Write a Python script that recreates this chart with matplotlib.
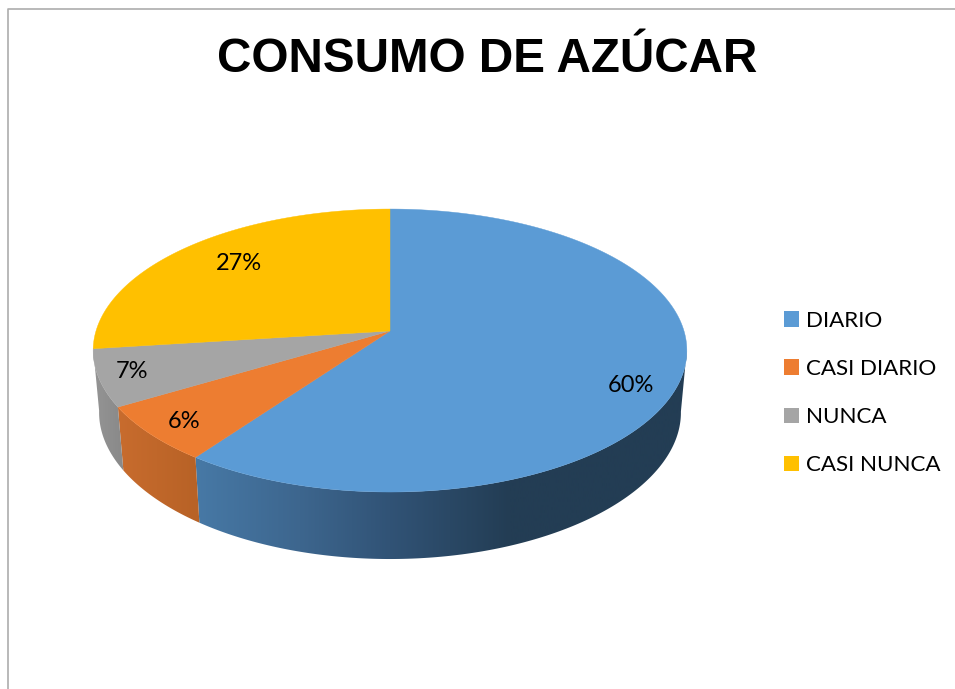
import numpy as np
import matplotlib
matplotlib.use('Agg')
import matplotlib.pyplot as plt
from matplotlib.patches import Patch, Polygon

title = 'CONSUMO DE AZÚCAR'
categories = ['DIARIO', 'CASI DIARIO', 'NUNCA', 'CASI NUNCA']
values = [60.0, 6.49, 6.51, 27.0]

top_colors = ['#5B9BD5', '#ED7D31', '#A5A5A5', '#FFC000']

# side shading of each slice, left to right (x pixel, colour)
side_x = [
    [195, 300, 390, 510, 690],
    [117, 197],
    [90, 120],
    [90, 120],
]
side_rgb = [
    [(71, 121, 166), (61, 102, 142), (49, 83, 118), (35, 61, 84), (35, 61, 84)],
    [(200, 108, 46), (184, 98, 38)],
    [(150, 150, 150), (138, 138, 138)],
    [(150, 150, 150), (138, 138, 138)],
]

label_xy = [(631, 385), (184, 422), (132, 372), (239, 263)]

# pie geometry in pixels, the top face is a circle seen in perspective
cx, cy = 390, 331
bx, ay = 294, 138.8
k = 0.138


def rim(theta):
    u, v = np.sin(theta), np.cos(theta)
    w = 1 + k * v
    return cx + bx * u / w, cy - ay * v / w


def rim_bottom(theta):
    x, y = rim(theta)
    v = np.cos(theta)
    return cx + 0.98 * (x - cx), y + 62 + 5 * v ** 2


fig = plt.figure(figsize=(9.55, 6.89), dpi=100)
ax = fig.add_axes([0, 0, 1, 1])
ax.axis('off')

edges = np.cumsum([0] + values) / sum(values) * 2 * np.pi

# side walls first, only the part of the rim facing the viewer
for i in range(len(values)):
    th = np.linspace(edges[i], edges[i + 1], 300)
    th = th[np.cos(th) < -0.12]
    if len(th) < 2:
        continue
    xt, yt = rim(th)
    xb, yb = rim_bottom(th)
    rgb = np.array(side_rgb[i]) / 255
    x0, x1 = min(xt.min(), xb.min()), max(xt.max(), xb.max())
    xs = np.linspace(x0, x1, 400)
    grad = np.stack([np.interp(xs, side_x[i], rgb[:, n]) for n in range(3)], axis=-1)[None, :, :]
    im = ax.imshow(grad, extent=[x0, x1, 689, 0], aspect='auto', zorder=2, interpolation='bilinear')
    poly = Polygon(np.c_[np.r_[xt, xb[::-1]], np.r_[yt, yb[::-1]]], closed=True,
                   transform=ax.transData, fc='none', ec='none')
    ax.add_patch(poly)
    im.set_clip_path(poly)

for i in range(len(values)):
    th = np.linspace(edges[i], edges[i + 1], 300)
    xt, yt = rim(th)
    ax.fill(np.r_[cx, xt], np.r_[cy, yt], color=top_colors[i], lw=0.3, zorder=3)

for v, (x, y) in zip(values, label_xy):
    ax.text(x, y, f'{v:.0f}%', ha='center', va='center', fontsize=17,
            family='Lato', color='black', zorder=4)

ax.text(487, 59, title, ha='center', va='center', fontsize=34.3,
        family='Liberation Sans', fontweight='bold', color='black')

# chart frame, only top and left reach the crop
ax.plot([8, 8, 955], [689, 9, 9], color='#ADADAD', lw=1.2, zorder=1)

handles = [Patch(facecolor=c, edgecolor='none') for c in top_colors]
ax.legend(handles, categories, loc='center left', bbox_to_anchor=(784, 393),
          bbox_transform=ax.transData, frameon=False,
          prop={'family': 'Lato', 'size': 16.1},
          handlelength=0.67, handleheight=0.67, handletextpad=0.33,
          labelspacing=1.26, borderpad=0, borderaxespad=0)

ax.set_xlim(0, 955)
ax.set_ylim(689, 0)

fig.savefig('out.png', dpi=100, facecolor='white')
